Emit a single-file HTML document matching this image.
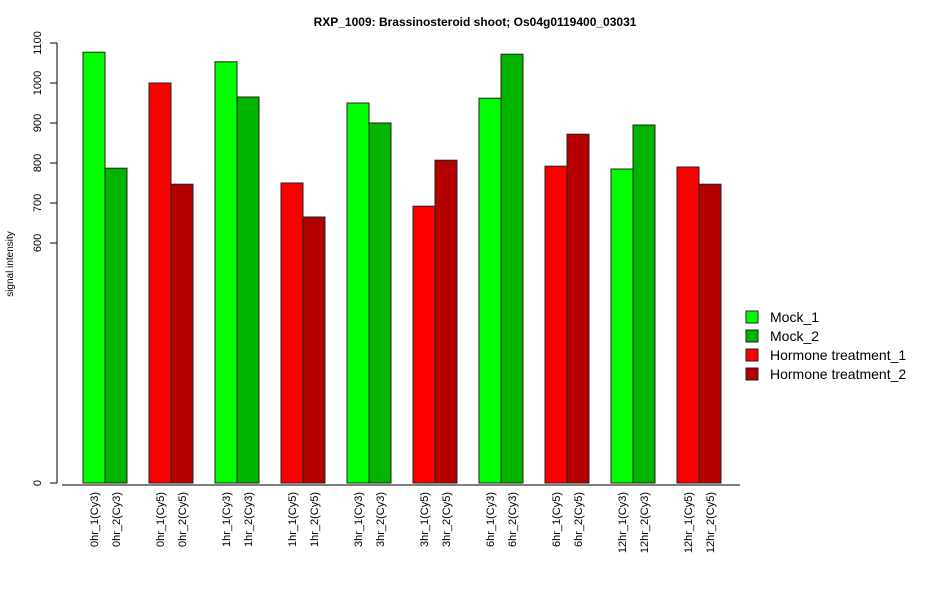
<!DOCTYPE html>
<html><head><meta charset="utf-8"><style>
body{margin:0;background:#fff;}
svg{display:block;font-family:"Liberation Sans",Arial,sans-serif;}
</style></head><body>
<svg id="chart" width="950" height="600">
<text x="475" y="26" text-anchor="middle" font-size="12" font-weight="bold">RXP_1009: Brassinosteroid shoot; Os04g0119400_03031</text>
<text transform="translate(13,264) rotate(-90)" text-anchor="middle" font-size="10">signal intensity</text>
<g id="yaxis"></g>
<g id="bars"></g>
<g id="xlabels"></g>
<line x1="62" y1="485" x2="740" y2="485" stroke="#000"/>
<g id="legend"></g>
</svg>
<script>
const categories=["0hr_1(Cy3)","0hr_2(Cy3)","0hr_1(Cy5)","0hr_2(Cy5)","1hr_1(Cy3)","1hr_2(Cy3)","1hr_1(Cy5)","1hr_2(Cy5)","3hr_1(Cy3)","3hr_2(Cy3)","3hr_1(Cy5)","3hr_2(Cy5)","6hr_1(Cy3)","6hr_2(Cy3)","6hr_1(Cy5)","6hr_2(Cy5)","12hr_1(Cy3)","12hr_2(Cy3)","12hr_1(Cy5)","12hr_2(Cy5)"];
const values=[1077,787,1000,747,1053,965,750,665,950,900,692,807,962,1072,792,872,785,895,790,747];
const seriesIdx=[0,1,2,3,0,1,2,3,0,1,2,3,0,1,2,3,0,1,2,3];
const seriesNames=["Mock_1","Mock_2","Hormone treatment_1","Hormone treatment_2"];
const yTicks=[0,600,700,800,900,1000,1100];
const colors=["#00ff00","#00b400","#ff0000","#b40000"];
const NS="http://www.w3.org/2000/svg";
const y=v=>483-v*0.4;
const bx=i=>83+Math.floor(i/2)*66+(i%2)*22;
function mk(t,a,p){const e=document.createElementNS(NS,t);for(const k in a)e.setAttribute(k,a[k]);p.appendChild(e);return e;}
const ya=document.getElementById('yaxis');
let ax=mk('line',{x1:57,x2:57,y1:y(0),y2:y(1100),stroke:'#000'},ya);


yTicks.forEach(t=>{
 const l=mk('line',{x1:50,x2:57,y1:y(t),y2:y(t),stroke:'#000'},ya);
 
 
 const tx=mk('text',{transform:`translate(41,${y(t)}) rotate(-90)`,'text-anchor':'middle','font-size':11},ya);
 tx.textContent=t;
 
 
});
const bg=document.getElementById('bars'),xl=document.getElementById('xlabels');
values.forEach((v,i)=>{
 const r=mk('rect',{x:bx(i),y:y(v),width:22,height:y(0)-y(v),fill:colors[seriesIdx[i]],stroke:'#222','stroke-width':1},bg);
 
 
 const t=mk('text',{transform:`translate(${bx(i)+15},492) rotate(-90)`,'text-anchor':'end','font-size':11},xl);
 t.textContent=categories[i];
 
 
});
const lg=document.getElementById('legend');
seriesNames.forEach((n,i)=>{
 const r=mk('rect',{x:746,y:311+i*19,width:12,height:12,fill:colors[i],stroke:'#222'},lg);
 
 
 const t=mk('text',{x:770,y:322+i*19,'font-size':14},lg);
 t.textContent=n;
 
 
});
</script>
</body></html>
